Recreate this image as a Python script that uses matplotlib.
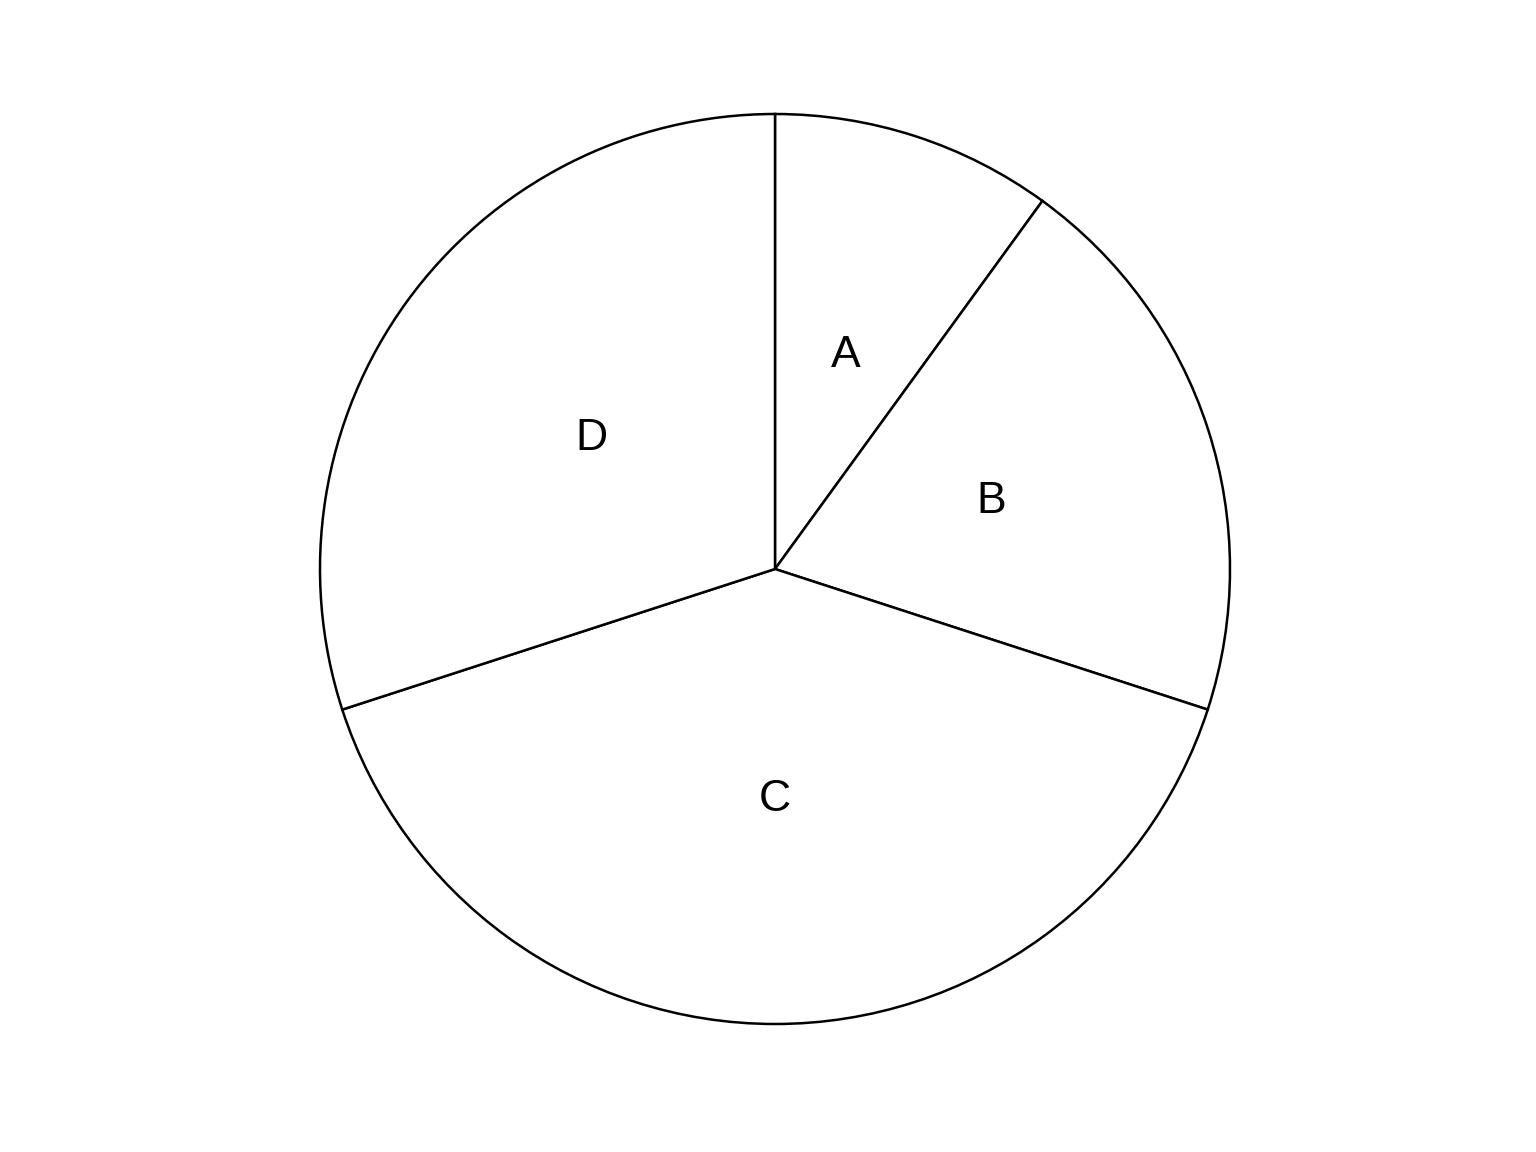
import matplotlib.pyplot as plt
import matplotlib.transforms as mtransforms

plt.rcParams['font.family'] = ['Liberation Sans', 'DejaVu Sans']

labels = ["A", "B", "C", "D"]
values = [10, 20, 40, 30]

fig = plt.figure(figsize=(15.36, 11.52), dpi=100)
# axes placed so the circle sits where it does in the reference
ax = fig.add_axes([320 / 1536, 128 / 1152, 910 / 1536, 910 / 1152])

wedges, texts = ax.pie(values, labels=labels, startangle=90, counterclock=False,
                       labeldistance=0.5, radius=1,
                       colors=["white"] * len(values),
                       wedgeprops=dict(edgecolor="black", linewidth=1.8, clip_on=False),
                       textprops=dict(fontsize=32, color="black"))
# nudge labels down a little so the glyphs sit centred on the label point
shift = mtransforms.ScaledTranslation(0, -3 / 100, fig.dpi_scale_trans)
for t in texts:
    t.set_ha("center")
    t.set_va("center")
    t.set_transform(t.get_transform() + shift)

ax.set_xlim(-1, 1)
ax.set_ylim(-1, 1)
ax.set_aspect("equal")
ax.axis("off")

fig.savefig("out.png", dpi=100)
